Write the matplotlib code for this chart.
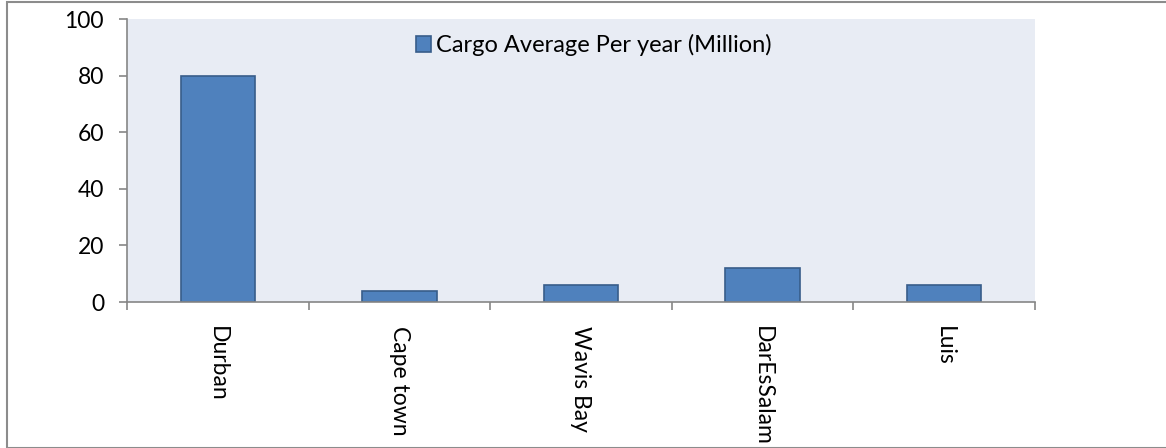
import matplotlib
matplotlib.use("Agg")
import matplotlib.pyplot as plt
from matplotlib.patches import Rectangle
import numpy as np

categories = ["Durban", "Cape town", "Wavis Bay", "DarEsSalam", "Luis"]
values = [80, 4, 6, 12, 6]
series_name = "Cargo Average Per year (Million)"
y_ticks = [0, 20, 40, 60, 80, 100]

plt.rcParams['font.family'] = ['Lato', 'DejaVu Sans']

W, H = 1166, 448
fig = plt.figure(figsize=(W/100, H/100), dpi=100)
fig.patch.set_facecolor("white")

# outer chart border
fig.add_artist(Rectangle((7/W, 0), (W+10)/W, (H-2.5)/H, transform=fig.transFigure,
                         fill=False, edgecolor="#8c8c8c", linewidth=1.5, clip_on=False))

left, right, top, bottom = 127, 1035, 19, 302
ax = fig.add_axes([left/W, 1-bottom/H, (right-left)/W, (bottom-top)/H])
ax.set_facecolor("#E8ECF4")

x = np.arange(len(categories))
ax.bar(x, values, width=0.41, color="#4F81BD", edgecolor="#385D8A", linewidth=1.2,
       label=series_name, zorder=2)

ax.set_xlim(-0.5, len(categories)-0.5)
ax.set_ylim(0, 100)
ax.set_yticks(y_ticks)
ax.set_yticklabels([str(v) for v in y_ticks], fontsize=16.5)
ax.set_xticks(x)
ax.set_xticklabels(categories, rotation=-90, fontsize=16.5, va="top", ha="center")
ax.tick_params(axis="x", length=0, pad=17)
ax.set_xticks(np.arange(-0.5, len(categories)), minor=True)
ax.tick_params(axis="x", which="minor", length=5.5, color="#868686", width=1.2)
ax.tick_params(axis="y", length=5.5, color="#868686", width=1.2, pad=11)

for s in ["top", "right"]:
    ax.spines[s].set_visible(False)
for s in ["left", "bottom"]:
    ax.spines[s].set_color("#868686")
    ax.spines[s].set_linewidth(1.2)

leg = ax.legend(loc="center", bbox_to_anchor=(0.514, 0.908), frameon=False,
                fontsize=17, handlelength=0.65, handleheight=0.65, handletextpad=0.2,
                borderpad=0, borderaxespad=0)

fig.savefig("out.png", dpi=100)
